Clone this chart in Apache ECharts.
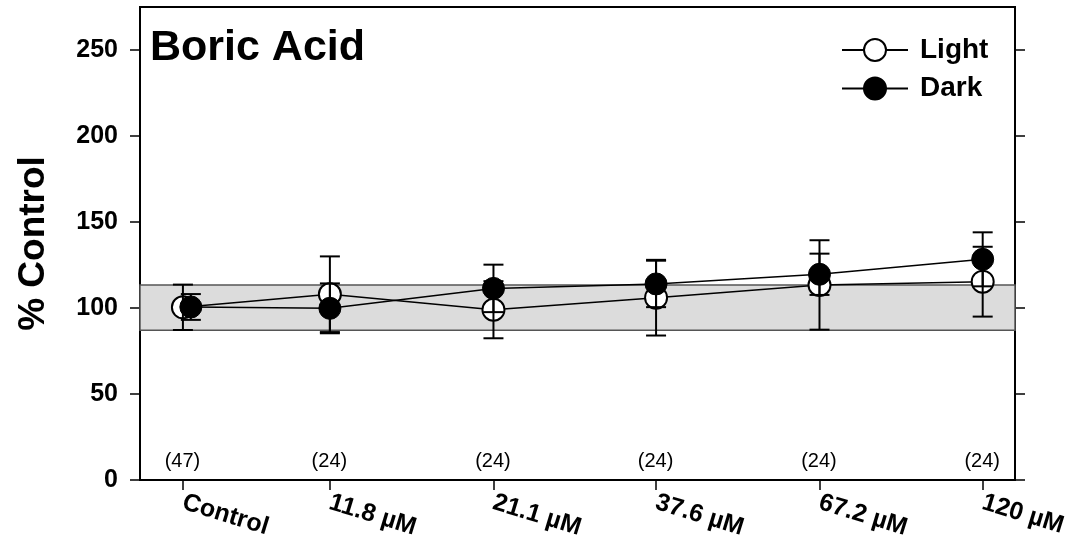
<!DOCTYPE html>
<html>
<head>
<meta charset="utf-8">
<script src="https://cdn.jsdelivr.net/npm/echarts@6/dist/echarts.min.js"></script>
<style>
  html, body { margin: 0; padding: 0; background: #fff; }
  #chart { width: 1072px; height: 549px; }
</style>
</head>
<body>
<div id="chart"></div>
<script>
// x axis: log concentration, Control drawn at a nominal ~7 µM
const categories = ['Control', '11.8 µM', '21.1 µM', '37.6 µM', '67.2 µM', '120 µM']
const lightConc = [7, 11.8, 21.1, 37.6, 67.2, 120]
const darkConc = [7.2, 11.8, 21.1, 37.6, 67.2, 120]

// % control, mean and error
const lightMean = [100.4, 108, 99, 106, 113.4, 115.3]
const lightErr = [13.2, 22, 16.6, 22, 26, 20.3]
const darkMean = [100.6, 99.8, 111.4, 114, 119.6, 128.3]
const darkErr = [7.5, 14.5, 13.8, 13.5, 12, 15.7]

// sample sizes shown above the x axis
const nCounts = [47, 24, 24, 24, 24, 24]
const countLevel = 10.5

// grey control band
const controlBand = [87, 113.4]
const yTicks = [0, 50, 100, 150, 200, 250]

const font = 'Liberation Sans, Arial, sans-serif'

function pairs(xs, ys) {
  return xs.map((x, i) => [x, ys[i]])
}
function errData(xs, m, e) {
  return xs.map((x, i) => [x, m[i] - e[i], m[i] + e[i]])
}
function xLabel(v) {
  const i = lightConc.findIndex(c => Math.abs(c - v) < c * 1e-3)
  return i >= 0 ? categories[i] : ''
}

// vertical bar with caps
function renderErr(params, api) {
  const x = api.value(0)
  const lo = api.coord([x, api.value(1)])
  const hi = api.coord([x, api.value(2)])
  const w = 10
  const style = { stroke: '#000', lineWidth: 2 }
  return {
    type: 'group',
    children: [
      { type: 'line', shape: { x1: lo[0], y1: lo[1], x2: hi[0], y2: hi[1] }, style: style },
      { type: 'line', shape: { x1: lo[0] - w, y1: lo[1], x2: lo[0] + w, y2: lo[1] }, style: style },
      { type: 'line', shape: { x1: hi[0] - w, y1: hi[1], x2: hi[0] + w, y2: hi[1] }, style: style }
    ]
  }
}

const chart = echarts.init(document.getElementById('chart'))
chart.setOption({
  animation: false,
  backgroundColor: '#fff',
  title: {
    text: 'Boric Acid',
    left: 150,
    top: 27,
    padding: 0,
    textStyle: { fontFamily: font, fontSize: 43, fontWeight: 'bold', color: '#000' }
  },
  legend: {
    orient: 'vertical',
    left: 836,
    top: 31,
    itemWidth: 66,
    itemHeight: 27.5,
    itemGap: 10.5,
    selectedMode: false,
    data: ['Light', 'Dark'],
    textStyle: { fontFamily: font, fontSize: 28, fontWeight: 'bold', color: '#000', padding: [0, 0, 0, 7] }
  },
  grid: {
    left: 140,
    right: 57,
    top: 7,
    bottom: 69,
    show: true,
    borderColor: '#000',
    borderWidth: 2,
    backgroundColor: 'transparent'
  },
  xAxis: {
    type: 'log',
    min: 6.01,
    max: 134.6,
    splitLine: { show: false },
    axisLine: { lineStyle: { color: '#000', width: 2 } },
    axisTick: { inside: false, length: 10, lineStyle: { color: '#000', width: 1.5 }, customValues: lightConc },
    axisLabel: {
      customValues: lightConc,
      formatter: xLabel,
      rotate: -17,
      margin: 22,
      fontFamily: font,
      fontSize: 25,
      fontWeight: 'bold',
      color: '#000'
    },
    minorTick: { show: false }
  },
  yAxis: [
    {
      type: 'value',
      min: 0,
      max: 275,
      name: '% Control',
      nameLocation: 'middle',
      nameGap: 88,
      nameTextStyle: { fontFamily: font, fontSize: 37, fontWeight: 'bold', color: '#000' },
      splitLine: { show: false },
      axisLine: { show: true, lineStyle: { color: '#000', width: 2 } },
      axisTick: { show: true, inside: false, length: 10, lineStyle: { color: '#000', width: 1.5 }, customValues: yTicks },
      axisLabel: {
        customValues: yTicks,
        margin: 22,
        fontFamily: font,
        fontSize: 25,
        fontWeight: 'bold',
        color: '#000'
      }
    },
    {
      type: 'value',
      position: 'right',
      min: 0,
      max: 275,
      splitLine: { show: false },
      axisLine: { show: true, lineStyle: { color: '#000', width: 2 } },
      axisTick: { show: true, inside: false, length: 10, lineStyle: { color: '#000', width: 1.5 }, customValues: yTicks },
      axisLabel: { show: false }
    }
  ],
  series: [
    {
      name: 'Light',
      type: 'line',
      z: 2,
      data: pairs(lightConc, lightMean),
      symbol: 'circle',
      symbolSize: 22,
      lineStyle: { color: '#000', width: 1.5 },
      itemStyle: { color: '#fff', borderColor: '#000', borderWidth: 2 },
      markArea: {
        silent: true,
        itemStyle: { color: '#dcdcdc', borderColor: '#555', borderWidth: 1.5 },
        data: [[{ yAxis: controlBand[0] }, { yAxis: controlBand[1] }]]
      }
    },
    {
      name: 'Light error',
      type: 'custom',
      z: 3,
      renderItem: renderErr,
      data: errData(lightConc, lightMean, lightErr)
    },
    {
      name: 'Dark error',
      type: 'custom',
      z: 3,
      renderItem: renderErr,
      data: errData(darkConc, darkMean, darkErr)
    },
    {
      name: 'Dark',
      type: 'line',
      z: 4,
      data: pairs(darkConc, darkMean),
      symbol: 'circle',
      symbolSize: 22,
      lineStyle: { color: '#000', width: 1.5 },
      itemStyle: { color: '#000', borderColor: '#000', borderWidth: 1 }
    },
    {
      name: 'n',
      type: 'scatter',
      z: 5,
      symbolSize: 1,
      itemStyle: { color: '#fff', opacity: 0 },
      data: lightConc.map((c, i) => [c, countLevel, nCounts[i]]),
      label: {
        show: true,
        position: [0, 0],
        align: 'center',
        verticalAlign: 'middle',
        formatter: p => '(' + p.value[2] + ')',
        fontFamily: font,
        fontSize: 20,
        color: '#000',
        opacity: 1
      }
    }
  ]
})
</script>
</body>
</html>
